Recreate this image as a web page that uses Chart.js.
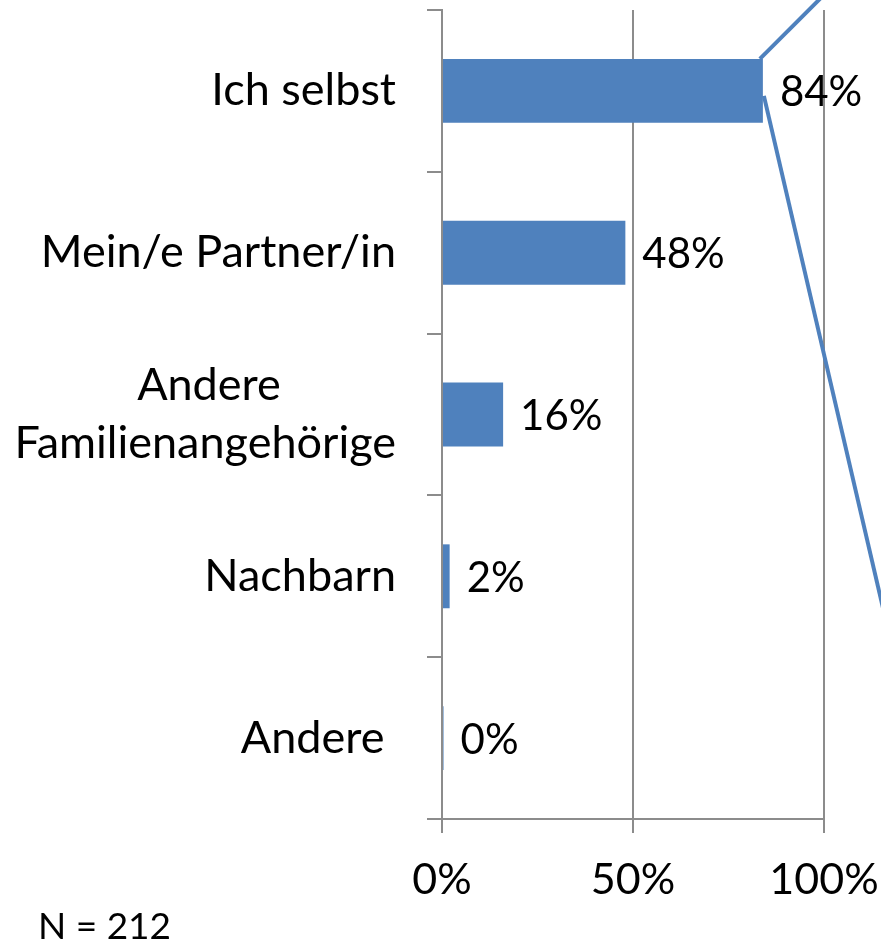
<!DOCTYPE html>
<html>
<head>
<meta charset="utf-8">
<script src="https://cdn.jsdelivr.net/npm/chart.js@4.4.0/dist/chart.umd.min.js"></script>
<style>
  html, body { margin: 0; padding: 0; background: #ffffff; }
  #wrap { position: relative; width: 881px; height: 945px; }
  #note { position: absolute; left: 38px; top: 903px; font-family: Lato, sans-serif; font-size: 37px; color: #000; line-height: 44px; white-space: nowrap; }
</style>
</head>
<body>
<div id="wrap">
  <canvas id="c"></canvas>
  <div id="note">N = 212</div>
</div>
<script>
const categories = ["Ich selbst", "Mein/e Partner/in", ["Andere          ", "Familienangehörige"], "Nachbarn", "Andere "];
const values = [84, 48, 16, 2, 0.4];
const valueLabels = ["84%", "48%", "16%", "2%", "0%"];
const xTicks = [0, 50, 100];

const BLUE = "#4F81BD";
const GRID = "#8C8C8C";
const FONT = "Lato, sans-serif";

const dataLabelPlugin = {
  id: "dataLabels",
  afterDatasetsDraw(chart) {
    const ctx = chart.ctx;
    const meta = chart.getDatasetMeta(0);
    ctx.save();
    ctx.font = "42px " + FONT;
    ctx.fillStyle = "#000";
    ctx.textAlign = "left";
    ctx.textBaseline = "middle";
    meta.data.forEach((bar, i) => {
      ctx.fillText(valueLabels[i], bar.x + 17, bar.y + 2);
    });
    ctx.restore();
  }
};

const calloutPlugin = {
  id: "callout",
  afterDatasetsDraw(chart) {
    const ctx = chart.ctx;
    const bar = chart.getDatasetMeta(0).data[0];
    const top = bar.y - bar.height / 2;
    const W = chart.width;
    ctx.save();
    ctx.strokeStyle = BLUE;
    ctx.lineWidth = 4;
    ctx.lineCap = "butt";
    // upper edge of the callout
    ctx.beginPath();
    ctx.moveTo(bar.x - 3, top);
    ctx.lineTo(bar.x - 3 + top + 4, -4);
    ctx.stroke();
    // lower edge of the callout
    const sx = bar.x + 1, sy = bar.y + 5;
    ctx.beginPath();
    ctx.moveTo(sx, sy);
    ctx.lineTo(W + 2, sy + (W + 2 - sx) * 4.3);
    ctx.stroke();
    ctx.restore();
  }
};

new Chart(document.getElementById("c"), {
  type: "bar",
  data: {
    labels: categories,
    datasets: [{
      data: values,
      backgroundColor: BLUE,
      borderWidth: 0,
      categoryPercentage: 1,
      barPercentage: 0.395
    }]
  },
  options: {
    indexAxis: "y",
    responsive: true,
    maintainAspectRatio: false,
    animation: false,
    layout: { padding: { left: 0, right: 57, top: 10, bottom: 0 } },
    plugins: { legend: { display: false }, tooltip: { enabled: false }, title: { display: false } },
    scales: {
      x: {
        min: 0, max: 100,
        afterBuildTicks(scale) { scale.ticks = xTicks.map(v => ({ value: v })); },
        afterFit(scale) { scale.height = 126; scale.paddingLeft = 0; scale.paddingRight = 0; },
        grid: { color: GRID, lineWidth: 2, drawTicks: true, tickLength: 14, tickColor: GRID },
        border: { display: true, color: GRID, width: 2 },
        ticks: { color: "#000", font: { family: FONT, size: 43 }, padding: 21, callback: v => v + "%", maxRotation: 0 }
      },
      y: {
        afterFit(scale) { scale.width = 442; scale.paddingTop = 0; scale.paddingBottom = 0; },
        grid: { offset: true, drawOnChartArea: false, drawTicks: true, tickLength: 15, tickColor: GRID, lineWidth: 2 },
        border: { display: true, color: GRID, width: 2 },
        ticks: { color: "#000", font: { family: FONT, size: 45, lineHeight: 1.27 }, padding: 31 }
      }
    }
  },
  plugins: [dataLabelPlugin, calloutPlugin]
});
</script>
</body>
</html>
